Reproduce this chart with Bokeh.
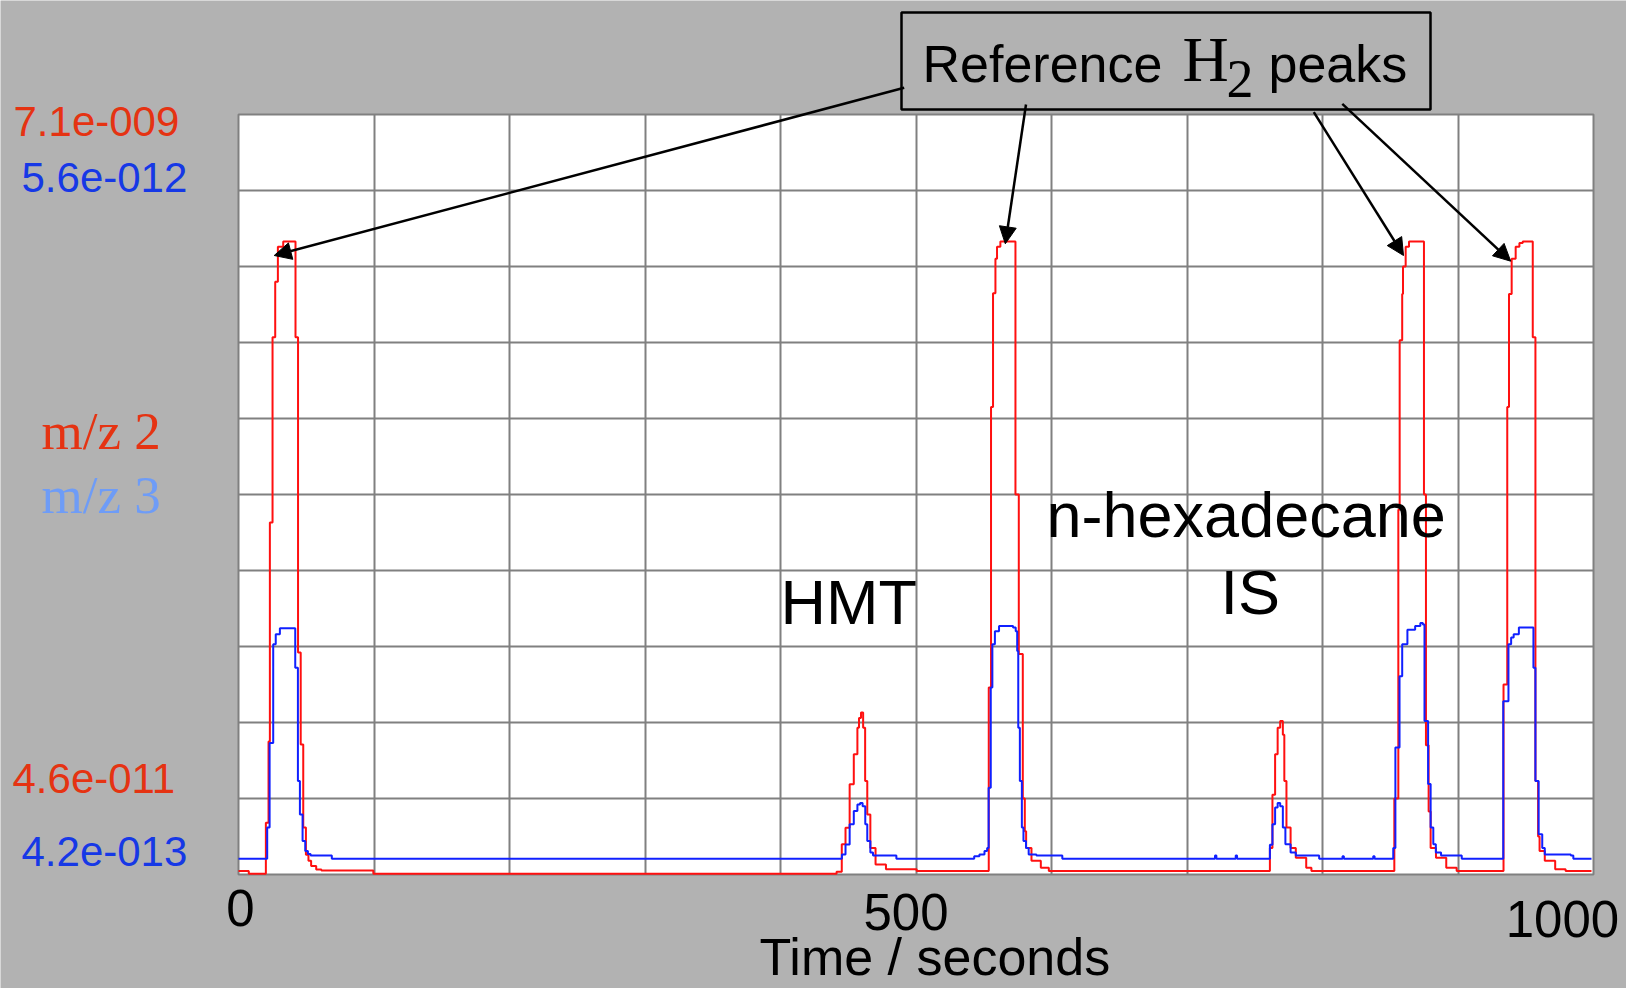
from bokeh.plotting import figure
from bokeh.models import (Range1d, FixedTicker, Grid, Label, Arrow, NormalHead,
                          BoxAnnotation)
from bokeh.embed import file_html
from bokeh.resources import INLINE

# ---------------- data ----------------
# m/z 2 ion current, nA (sampled signal, value holds until next sample)
time_mz2 = [0, 7.7, 20.5, 22.5, 23.5, 25.5, 27.5, 29.5, 33.5, 42.7, 44.6, 46.6, 48.5,
            50.5, 52.4, 54.4, 58.2, 62.1, 101.0,
            448.0, 451.9, 454.7, 457.8, 460.9, 463.6, 464.8, 466.3, 467.9, 469.4, 471.0,
            473.3, 477.2, 485.0, 508.0,
            562.0, 563.7, 565.2, 567.0, 568.2, 570.7, 582.0, 584.5, 587.5, 589.0, 590.0,
            594.0, 601.0, 607.0,
            772.6, 774.5, 776.5, 778.4, 780.3, 782.3, 783.4, 785.0, 788.1, 792.0, 799.8,
            803.7,
            865.8, 868.8, 869.8, 871.7, 872.3, 874.3, 876.8, 888.0, 889.5, 891.5, 893.0,
            897.0, 904.7, 912.5,
            947.6, 950.4, 951.7, 953.7, 956.7, 959.5, 962.0, 969.5, 971.5, 973.5, 974.6,
            978.5, 986.3, 994.1, 1013.5]
mz2_nA = [0.078, 0.053, 0.526, 1.280, 3.312, 5.033, 5.548, 5.873, 5.922, 5.033, 2.106,
          1.252, 0.483, 0.229, 0.173, 0.124, 0.093, 0.084, 0.053,
          0.071, 0.326, 0.481, 0.883, 1.161, 1.407, 1.499, 1.549, 1.407, 0.914, 0.603,
          0.293, 0.138, 0.095, 0.078,
          1.781, 4.384, 5.442, 5.760, 5.873, 5.922, 3.573, 2.092, 0.751, 0.448, 0.293,
          0.173, 0.109, 0.078,
          0.293, 0.787, 1.161, 1.407, 1.471, 1.344, 0.914, 0.483, 0.293, 0.201, 0.109,
          0.078,
          0.751, 3.432, 5.005, 5.435, 5.689, 5.873, 5.922, 3.573, 1.245, 0.631, 0.293,
          0.201, 0.109, 0.078,
          1.810, 4.384, 5.435, 5.760, 5.873, 5.908, 5.922, 5.033, 0.914, 0.399, 0.265,
          0.173, 0.095, 0.078, 0.078]

# m/z 3 ion current, pA
time_mz3 = [0, 21.5, 23.3, 26.0, 27.9, 31.0, 42.5, 44.5, 46.0, 48.0, 50.0, 52.0, 54.0,
            69.9,
            452.0, 454.7, 457.8, 460.9, 463.6, 465.6, 467.5, 469.5, 471.0, 473.3, 475.3,
            492.8,
            551.1, 555.0, 558.8, 560.8, 561.9, 563.5, 564.7, 566.6, 569.7, 580.2, 582.2,
            583.3, 584.1, 585.3, 586.8, 588.0, 589.9, 591.9, 597.7, 617.1,
            731.5, 732.5, 747.0, 748.0,
            772.6, 774.5, 776.5, 778.4, 780.3, 782.3, 784.2, 788.1, 792.0, 809.5,
            827.0, 828.0, 850.0, 851.0,
            865.0, 866.6, 869.7, 871.7, 875.6, 881.4, 885.3, 887.2, 888.4, 891.1, 893.0,
            895.0, 896.9, 900.8, 916.3,
            947.4, 951.3, 953.3, 955.2, 959.1, 970.0, 971.5, 973.9, 976.6, 978.5, 998.0,
            999.9, 1013.5]
mz3_pA = [0.527, 0.741, 1.316, 1.990, 2.057, 2.098, 1.829, 1.057, 0.829, 0.648, 0.581,
          0.560, 0.550, 0.527,
          0.557, 0.625, 0.762, 0.852, 0.897, 0.907, 0.886, 0.762, 0.648, 0.570, 0.550,
          0.527,
          0.545, 0.557, 0.581, 0.601, 1.011, 1.694, 1.990, 2.078, 2.114, 2.104, 2.078,
          1.943, 1.420, 1.057, 0.741, 0.648, 0.601, 0.557, 0.550, 0.527,
          0.550, 0.527, 0.550, 0.527,
          0.622, 0.762, 0.876, 0.907, 0.886, 0.741, 0.627, 0.570, 0.550, 0.527,
          0.545, 0.527, 0.545, 0.527,
          0.601, 1.285, 1.772, 1.990, 2.088, 2.114, 2.135, 2.124, 1.466, 1.036, 0.741,
          0.627, 0.570, 0.550, 0.527,
          1.601, 1.990, 2.036, 2.057, 2.104, 1.829, 1.057, 0.695, 0.601, 0.557, 0.550,
          0.527, 0.527]

x_ticks = [0, 500, 1000]
x_tick_labels = ["0", "500", "1000"]
x_title = "Time / seconds"
mz2_scale = ["7.1e-009", "4.6e-011"]   # top, bottom
mz3_scale = ["5.6e-012", "4.2e-013"]   # top, bottom
series_names = ["m/z 2", "m/z 3"]
peak_names = ["HMT", "n-hexadecane", "IS"]
callout = ["Reference", "H", "2", "peaks"]

# ---------------- layout constants ----------------
W, H = 1626, 988
FL, FR, FT, FB = 238, 1593, 114, 874       # chart area edges in pixels
X0, X1 = 0.0, 1015.0
R0, R1 = float(mz2_scale[1]) * 1e9, float(mz2_scale[0]) * 1e9
B0, B1 = float(mz3_scale[1]) * 1e12, float(mz3_scale[0]) * 1e12

BG = "#b2b2b2"
GRID = "#808080"
RED_TXT = "#e53312"
BLUE_TXT = "#1638e6"
LBLUE_TXT = "#6e9cf7"
BASE_SHIFT = 0.39   # label baseline correction, in em


def dx(px):
    return X0 + (px - FL) / (FR - FL) * (X1 - X0)


def dy(py):
    return R0 + (FB - py) / (FB - FT) * (R1 - R0)


def by(py):
    return B0 + (FB - py) / (FB - FT) * (B1 - B0)


# the frame covers the whole canvas so that nothing is clipped
p = figure(width=W, height=H, x_range=Range1d(dx(0), dx(W)), y_range=Range1d(dy(H), dy(0)),
           output_backend="svg", toolbar_location=None, x_axis_location=None,
           y_axis_location=None, min_border=0)
p.extra_y_ranges = {"mz3": Range1d(by(H), by(0))}
p.background_fill_color = BG
p.border_fill_color = BG
p.outline_line_color = None
for g in list(p.xgrid) + list(p.ygrid):
    g.visible = False

# white chart area
p.add_layout(BoxAnnotation(left=X0, right=X1, bottom=R0, top=R1, fill_color="white",
                           fill_alpha=1.0, line_color=GRID, line_alpha=1.0, line_width=2,
                           level="image"))

# grids: 10 x 10 divisions
xg = Grid(dimension=0, ticker=FixedTicker(ticks=[X0 + (X1 - X0) * i / 10 for i in range(1, 10)]),
          cross_bounds=(R0, R1), grid_line_color=GRID, grid_line_width=2)
yg = Grid(dimension=1, ticker=FixedTicker(ticks=[R0 + (R1 - R0) * i / 10 for i in range(1, 10)]),
          cross_bounds=(X0, X1), grid_line_color=GRID, grid_line_width=2)
p.add_layout(xg, "center")
p.add_layout(yg, "center")

# traces
p.step(time_mz2, mz2_nA, mode="after", line_color="#ff1010", line_width=2)
p.step(time_mz3, mz3_pA, mode="after", line_color="#1020ff", line_width=2,
       y_range_name="mz3")


def label(text, x, py, size, color="black", font="Liberation Sans", align="left",
          x_offset=0):
    p.add_layout(Label(x=x, y=dy(py - BASE_SHIFT * size), text=text, text_font=font,
                       text_font_size=f"{size}px", text_color=color,
                       text_align=align, text_baseline="alphabetic", x_offset=x_offset))


# x tick labels at their time values
tick_base = [927, 931, 938]
tick_shift = [2, 0, -11]
for t, s, b, o in zip(x_ticks, x_tick_labels, tick_base, tick_shift):
    label(s, t, b, 51, align="center", x_offset=o)
label(x_title, dx(759), 977, 52)

# scale labels on the left
label(mz2_scale[0], dx(13), 137, 42, RED_TXT)
label(mz3_scale[0], dx(21), 193, 42, BLUE_TXT)
label(mz2_scale[1], dx(12), 794, 42, RED_TXT)
label(mz3_scale[1], dx(21), 867, 42, BLUE_TXT)
label(series_names[0], dx(41), 451, 53, RED_TXT, "Liberation Serif")
label(series_names[1], dx(41), 515, 53, LBLUE_TXT, "Liberation Serif")

# peak names
label(peak_names[0], dx(780), 626, 63)
label(peak_names[1], dx(1046), 539, 63)
label(peak_names[2], dx(1220), 616, 63)

# callout box
p.add_layout(BoxAnnotation(left=dx(901), right=dx(1430), top=dy(12), bottom=dy(109),
                           fill_color=BG, fill_alpha=1.0, line_color="black",
                           line_alpha=1.0, line_width=2.5))
label(callout[0], dx(922), 84, 52)
label(callout[1], dx(1182), 84, 64, "black", "Liberation Serif")
label(callout[2], dx(1226), 100, 54, "black", "Liberation Serif")
label(callout[3], dx(1268), 84, 52)

arrows = [((903.7, 87.3), (273.7, 255.0)),
          ((1025.5, 104.0), (1004.8, 243.3)),
          ((1313.3, 111.7), (1403.0, 255.0)),
          ((1341.8, 103.3), (1510.2, 260.7))]
for (sx, sy), (ex, ey) in arrows:
    p.add_layout(Arrow(end=NormalHead(size=17, fill_color="black", line_color="black"),
                       x_start=dx(sx), y_start=dy(sy), x_end=dx(ex), y_end=dy(ey),
                       line_color="black", line_width=2.5))

open("out.html", "w").write(file_html(p, INLINE))
